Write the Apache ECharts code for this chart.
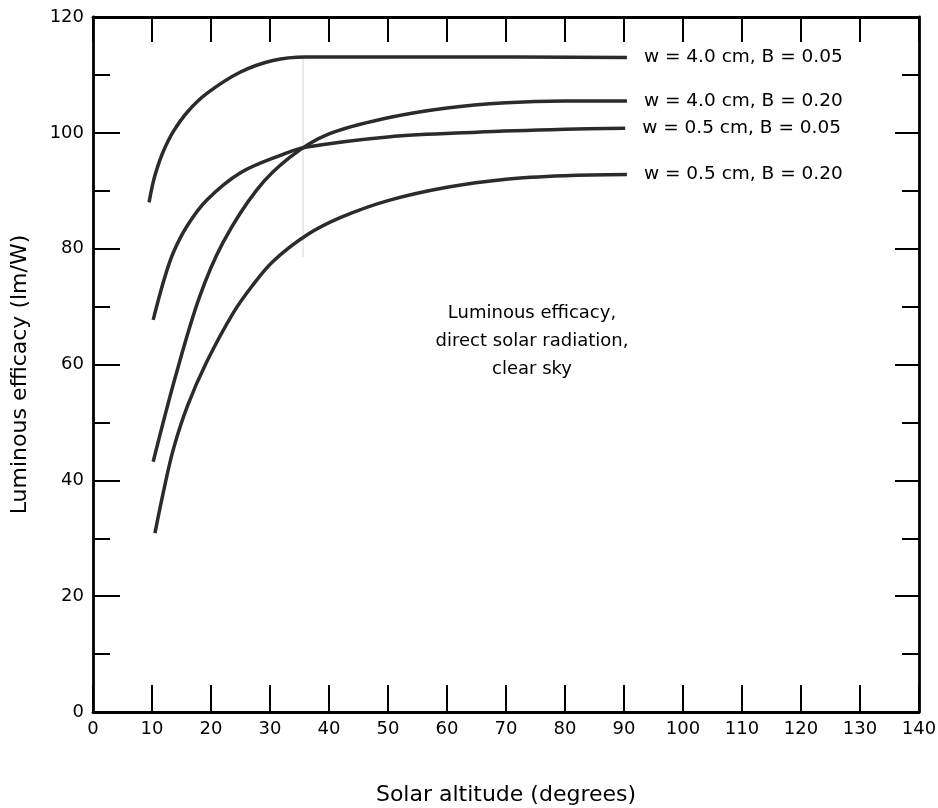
<!DOCTYPE html>
<html>
<head>
<meta charset="utf-8">
<script src="https://cdn.jsdelivr.net/npm/echarts@6/dist/echarts.min.js"></script>
<style>
  html, body { margin: 0; padding: 0; background: #fff; }
  #chart { width: 938px; height: 808px; }
</style>
</head>
<body>
<div id="chart"></div>
<script>
// curve names (shown at the right end of each line)
const names = ['w = 4.0 cm, B = 0.05', 'w = 4.0 cm, B = 0.20', 'w = 0.5 cm, B = 0.05', 'w = 0.5 cm, B = 0.20']

// solar altitude (deg) and luminous efficacy (lm/W)
const x1 = [9.5, 10.2, 11, 12, 13.6, 16, 19.3, 25, 30.5, 36, 60, 90.5]
const y1 = [88, 91.5, 94.3, 97, 100.2, 103.6, 106.8, 110.5, 112.5, 113.1, 113.1, 113]

const x2 = [10.2, 14, 18, 22, 27.8, 33.4, 40, 50, 60, 70, 80, 90.5]
const y2 = [43.2, 58, 71.5, 81, 90.2, 95.8, 99.8, 102.6, 104.3, 105.2, 105.5, 105.5]

const x3 = [10.2, 12, 13.6, 16, 19.3, 25, 32, 36, 50, 65, 80, 90.2]
const y3 = [67.7, 74.5, 79.3, 84, 88.4, 93.1, 96.2, 97.5, 99.3, 100.1, 100.6, 100.8]

const x4 = [10.5, 12, 13.6, 16, 19.3, 23.7, 27, 30.5, 36.3, 42, 50, 60, 70, 80, 90.5]
const y4 = [30.9, 38.3, 45.3, 52.8, 60.5, 68.8, 73.6, 77.8, 82.4, 85.4, 88.3, 90.6, 92, 92.6, 92.8]

// faint dotted guide line
const guideX = [35.6, 35.6]
const guideY = [113, 78.5]

const xs = [x1, x2, x3, x4]
const ys = [y1, y2, y3, y4]

function zip(a, b) {
    return a.map((v, i) => [v, b[i]])
}

const font = 'DejaVu Sans, Verdana, sans-serif'
const ink = '#000'

let myChart = echarts.init(document.getElementById('chart'))

let series = names.map((n, k) => ({
    name: n,
    type: 'line',
    data: zip(xs[k], ys[k]),
    smooth: 0.35,
    showSymbol: false,
    lineStyle: { color: '#2b2b2b', width: 3.5 },
    endLabel: {
        show: true,
        formatter: '{a}',
        distance: 17,
        color: ink,
        fontFamily: font,
        fontSize: 18.5
    },
    z: 3
}))

series.push({
    name: 'guide',
    type: 'line',
    data: zip(guideX, guideY),
    showSymbol: false,
    silent: true,
    lineStyle: { color: '#aaa', width: 1, type: 'dotted' },
    z: 1
})

const tickStyle = { color: '#000', width: 2 }
const frame = { show: true, onZero: false, lineStyle: { color: '#000', width: 2.8 } }

let option = {
    animation: false,
    grid: { left: 93, right: 19, top: 17, bottom: 96, outerBoundsMode: 'none' },
    xAxis: [{
        type: 'value',
        min: 0, max: 140, interval: 10,
        position: 'bottom',
        name: 'Solar altitude (degrees)',
        nameLocation: 'middle',
        nameGap: 72,
        nameTextStyle: { color: ink, fontFamily: font, fontSize: 22 },
        axisLine: frame,
        axisTick: { show: true, inside: true, length: 27, lineStyle: tickStyle },
        axisLabel: { color: ink, fontFamily: font, fontSize: 18, margin: 8 },
        splitLine: { show: false }
    }, {
        type: 'value',
        min: 0, max: 140, interval: 10,
        position: 'top',
        axisLine: frame,
        axisTick: { show: true, inside: true, length: 25, lineStyle: tickStyle },
        axisLabel: { show: false },
        splitLine: { show: false }
    }],
    yAxis: [{
        type: 'value',
        min: 0, max: 120, interval: 20,
        position: 'left',
        name: 'Luminous efficacy (lm/W)',
        nameLocation: 'middle',
        nameGap: 62,
        nameTextStyle: { color: ink, fontFamily: font, fontSize: 22, padding: [0, 20, 0, 0] },
        axisLine: frame,
        axisTick: { show: true, inside: true, length: 27, lineStyle: tickStyle },
        minorTick: { show: true, splitNumber: 2, length: 17, lineStyle: tickStyle },
        axisLabel: { color: ink, fontFamily: font, fontSize: 18, margin: 9 },
        splitLine: { show: false }
    }, {
        type: 'value',
        min: 0, max: 120, interval: 20,
        position: 'right',
        axisLine: frame,
        axisTick: { show: true, inside: true, length: 24, lineStyle: tickStyle },
        minorTick: { show: true, splitNumber: 2, length: 17, lineStyle: tickStyle },
        axisLabel: { show: false },
        splitLine: { show: false }
    }],
    graphic: [{
        type: 'text',
        x: 532,
        y: 299,
        style: {
            text: 'Luminous efficacy,\ndirect solar radiation,\nclear sky',
            align: 'center',
            textAlign: 'center',
            fill: ink,
            font: '18px ' + font,
            lineHeight: 28
        }
    }],
    series: series
}

myChart.setOption(option)
</script>
</body>
</html>
